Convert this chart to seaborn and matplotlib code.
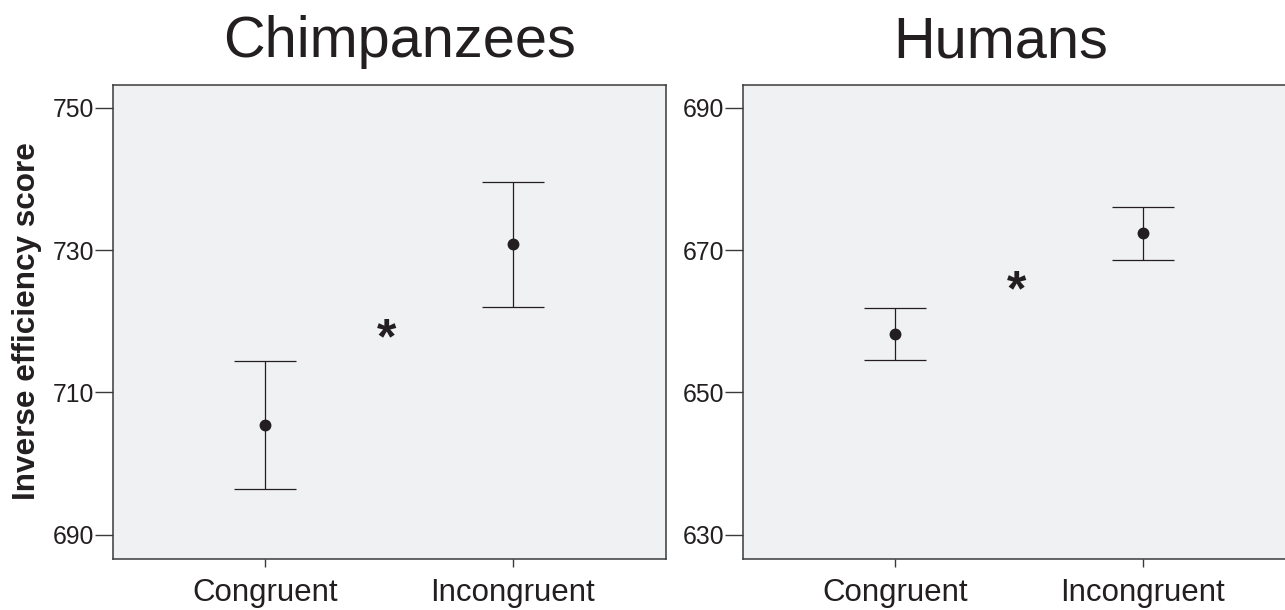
import matplotlib
matplotlib.use("Agg")
import matplotlib.pyplot as plt
import seaborn as sns
import pandas as pd

# values (mean and 95% CI ends)
conditions = ["Congruent", "Incongruent"]

chimp_mean = [705.4, 730.8]
chimp_low = [696.4, 722.0]
chimp_high = [714.4, 739.6]

human_mean = [658.2, 672.4]
human_low = [654.6, 668.6]
human_high = [661.9, 676.1]

chimp_yticks = [690, 710, 730, 750]
human_yticks = [630, 650, 670, 690]
chimp_ylim = (686.6, 753.2)
human_ylim = (626.6, 693.2)

# significance star position (between the two conditions)
star_x = 0.49
chimp_star_y = 717.3
human_star_y = 664.0

ink = "#231f20"
panel_bg = "#f0f1f3"

sns.set_style("white")
plt.rcParams["font.family"] = ["Liberation Sans", "DejaVu Sans"]

fig = plt.figure(figsize=(12.85, 6.1), dpi=100)
ax1 = fig.add_axes([0.0879, 0.0836, 0.4304, 0.7771])
ax2 = fig.add_axes([0.5782, 0.0836, 0.4304, 0.7771])


def draw_panel(ax, mean, low, high, ylim, yticks, star_y):
    df = pd.DataFrame({"condition": conditions, "score": mean})
    sns.pointplot(data=df, x="condition", y="score", order=conditions,
                  errorbar=None, linestyle="none", color=ink,
                  markers="o", markersize=6.5, ax=ax)
    yerr = [[m - l for m, l in zip(mean, low)],
            [h - m for m, h in zip(mean, high)]]
    ax.errorbar(x=[0, 1], y=mean, yerr=yerr, fmt="none", ecolor=ink,
                elinewidth=0.9, capsize=22.3, capthick=0.9)
    ax.text(star_x, star_y, "*", ha="center", va="center", fontsize=36,
            fontweight="bold", color=ink)
    ax.set_xlim(-0.615, 1.62)
    ax.set_ylim(*ylim)
    ax.set_yticks(yticks)
    ax.set_facecolor(panel_bg)
    ax.set_xlabel("")
    ax.set_ylabel("")
    for s in ax.spines.values():
        s.set_color("#3a3a3a")
        s.set_linewidth(1.1)
    ax.tick_params(axis="y", length=13, width=1.0, color="#3a3a3a",
                   labelsize=17.8, labelcolor=ink, pad=0.5, left=True)
    ax.tick_params(axis="x", length=6, width=1.0, color="#3a3a3a",
                   labelsize=22.5, labelcolor=ink, pad=7.5, bottom=True)


draw_panel(ax1, chimp_mean, chimp_low, chimp_high, chimp_ylim,
           chimp_yticks, chimp_star_y)
draw_panel(ax2, human_mean, human_low, human_high, human_ylim,
           human_yticks, human_star_y)

fig.text(400 / 1285, 1 - 57 / 610, "Chimpanzees", ha="center", va="baseline",
         fontsize=41.5, color=ink)
fig.text(1000.5 / 1285, 1 - 57 / 610, "Humans", ha="center", va="baseline",
         fontsize=41.5, color=ink)
fig.text(0.009, 0.473, "Inverse efficiency score", rotation=90,
         ha="left", va="center", fontsize=22.7, fontweight="bold", color=ink)

fig.savefig("out.png", dpi=100, facecolor="white")
